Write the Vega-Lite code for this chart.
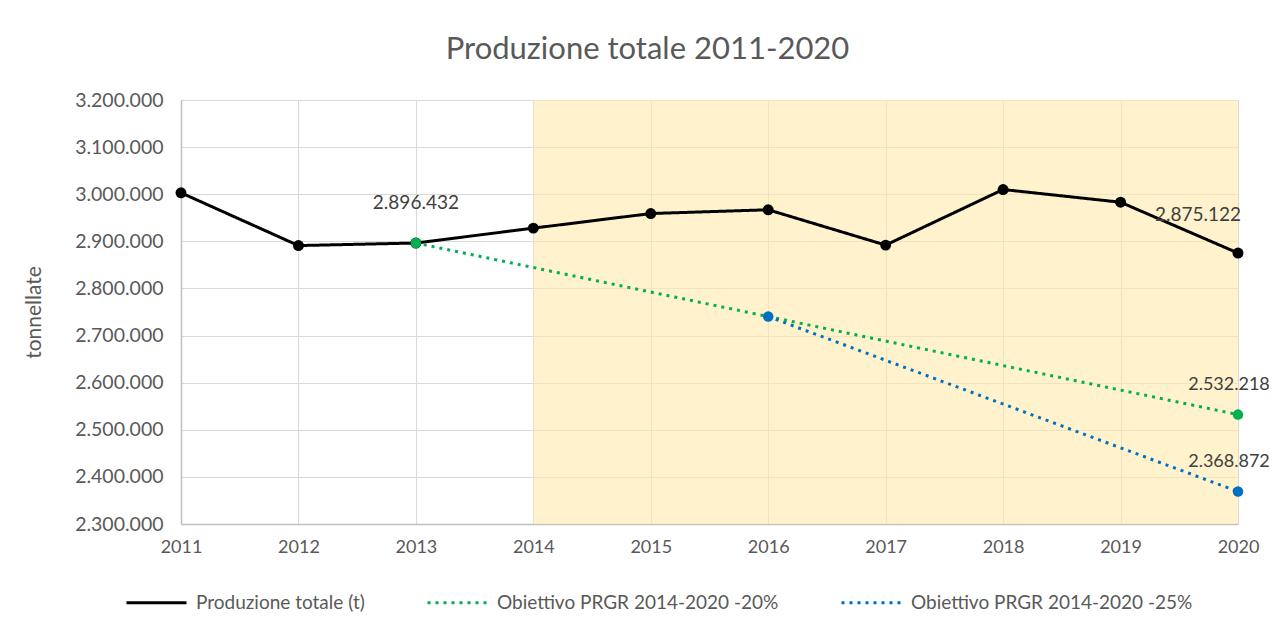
{
  "$schema": "https://vega.github.io/schema/vega-lite/v6.json",
  "width": 1057,
  "height": 424,
  "autosize": "none",
  "padding": {"left": 181, "top": 100, "right": 36, "bottom": 104},
  "background": "white",
  "title": {
    "text": "Produzione totale 2011-2020",
    "font": "Lato",
    "fontSize": 31,
    "fontWeight": "normal",
    "color": "#595959",
    "anchor": "middle",
    "frame": "group",
    "dx": -62,
    "offset": 24
  },
  "datasets": {
    "serie": [
      {"anno": 2011, "valore": 3003000, "serie": "Produzione totale (t)"},
      {"anno": 2012, "valore": 2891000, "serie": "Produzione totale (t)"},
      {"anno": 2013, "valore": 2896432, "serie": "Produzione totale (t)"},
      {"anno": 2014, "valore": 2928000, "serie": "Produzione totale (t)"},
      {"anno": 2015, "valore": 2959000, "serie": "Produzione totale (t)"},
      {"anno": 2016, "valore": 2967000, "serie": "Produzione totale (t)"},
      {"anno": 2017, "valore": 2892000, "serie": "Produzione totale (t)"},
      {"anno": 2018, "valore": 3010000, "serie": "Produzione totale (t)"},
      {"anno": 2019, "valore": 2983000, "serie": "Produzione totale (t)"},
      {"anno": 2020, "valore": 2875122, "serie": "Produzione totale (t)"},
      {"anno": 2013, "valore": 2896432, "serie": "Obiettivo PRGR 2014-2020 -20%"},
      {"anno": 2020, "valore": 2532218, "serie": "Obiettivo PRGR 2014-2020 -20%"},
      {"anno": 2016, "valore": 2740340, "serie": "Obiettivo PRGR 2014-2020 -25%"},
      {"anno": 2020, "valore": 2368872, "serie": "Obiettivo PRGR 2014-2020 -25%"}
    ],
    "periodo": [{"inizio": 2014, "fine": 2020}]
  },
  "encoding": {
    "x": {
      "field": "anno",
      "type": "quantitative",
      "scale": {"domain": [2011, 2020], "nice": false, "zero": false},
      "axis": {
        "title": null,
        "values": [2011, 2012, 2013, 2014, 2015, 2016, 2017, 2018, 2019, 2020],
        "format": "d",
        "grid": true,
        "gridColor": "#d9d9d9",
        "ticks": false,
        "domainColor": "#bfbfbf",
        "domainWidth": 1.5,
        "labelFont": "Lato",
        "labelFontSize": 18,
        "labelColor": "#595959",
        "labelPadding": 14,
        "labelFlush": false
      }
    },
    "y": {
      "field": "valore",
      "type": "quantitative",
      "scale": {"domain": [2300000, 3200000], "nice": false, "zero": false},
      "axis": {
        "title": "tonnellate",
        "titleFont": "Lato",
        "titleFontSize": 21,
        "titleFontWeight": "normal",
        "titleColor": "#595959",
        "titlePadding": 30,
        "values": [2300000, 2400000, 2500000, 2600000, 2700000, 2800000, 2900000, 3000000, 3100000, 3200000],
        "format": ",d",
        "grid": true,
        "gridColor": "#d9d9d9",
        "ticks": false,
        "domainColor": "#bfbfbf",
        "domainWidth": 1.5,
        "labelFont": "Lato",
        "labelFontSize": 19.5,
        "labelColor": "#595959",
        "labelPadding": 18
      }
    }
  },
  "layer": [
    {
      "data": {"name": "periodo"},
      "mark": {"type": "rect", "color": "#FFE9AA", "opacity": 0.6},
      "encoding": {
        "x": {"field": "inizio", "type": "quantitative"},
        "x2": {"field": "fine"},
        "y": null
      }
    },
    {
      "data": {"name": "serie"},
      "mark": {"type": "line", "strokeWidth": 3},
      "encoding": {
        "color": {
          "field": "serie",
          "type": "nominal",
          "scale": {
            "domain": ["Produzione totale (t)", "Obiettivo PRGR 2014-2020 -20%", "Obiettivo PRGR 2014-2020 -25%"],
            "range": ["#000000", "#00B050", "#0070C0"]
          },
          "legend": {
            "title": null,
            "orient": "none",
            "legendX": -56,
            "legendY": 471,
            "direction": "horizontal",
            "symbolType": "stroke",
            "symbolSize": 3600,
            "symbolStrokeWidth": 3,
            "labelFont": "Lato",
            "labelFontSize": 19,
            "labelColor": "#595959",
            "labelLimit": 400,
            "labelOffset": 8,
            "columnPadding": 56
          }
        },
        "strokeDash": {
          "field": "serie",
          "type": "nominal",
          "scale": {
            "domain": ["Produzione totale (t)", "Obiettivo PRGR 2014-2020 -20%", "Obiettivo PRGR 2014-2020 -25%"],
            "range": [[1, 0], [3, 5], [3, 5]]
          },
          "legend": {
            "title": null,
            "orient": "none",
            "legendX": -56,
            "legendY": 471,
            "direction": "horizontal",
            "symbolType": "stroke",
            "symbolSize": 3600,
            "symbolStrokeWidth": 3,
            "labelFont": "Lato",
            "labelFontSize": 19,
            "labelColor": "#595959",
            "labelLimit": 400,
            "labelOffset": 8,
            "columnPadding": 56
          }
        }
      }
    },
    {
      "data": {"name": "serie"},
      "transform": [{"filter": "datum.serie === 'Produzione totale (t)'"}],
      "mark": {"type": "point", "filled": true, "size": 120, "color": "#000000", "opacity": 1}
    },
    {
      "data": {"name": "serie"},
      "transform": [{"filter": "datum.serie === 'Obiettivo PRGR 2014-2020 -20%'"}],
      "mark": {"type": "point", "filled": true, "size": 110, "color": "#00B050", "opacity": 1}
    },
    {
      "data": {"name": "serie"},
      "transform": [{"filter": "datum.serie === 'Obiettivo PRGR 2014-2020 -25%'"}],
      "mark": {"type": "point", "filled": true, "size": 110, "color": "#0070C0", "opacity": 1}
    },
    {
      "data": {"name": "serie"},
      "transform": [{"filter": "datum.serie === 'Produzione totale (t)' && datum.anno === 2013"}],
      "mark": {"type": "text", "font": "Lato", "fontSize": 19, "color": "#404040", "dy": -40},
      "encoding": {"text": {"field": "valore", "type": "quantitative", "format": ",d"}}
    },
    {
      "data": {"name": "serie"},
      "transform": [{"filter": "datum.serie === 'Produzione totale (t)' && datum.anno === 2020"}],
      "mark": {"type": "text", "font": "Lato", "fontSize": 19, "color": "#404040", "dx": -40, "dy": -38},
      "encoding": {"text": {"field": "valore", "type": "quantitative", "format": ",d"}}
    },
    {
      "data": {"name": "serie"},
      "transform": [{"filter": "datum.serie !== 'Produzione totale (t)' && datum.anno === 2020"}],
      "mark": {"type": "text", "font": "Lato", "fontSize": 18, "color": "#404040", "dx": -9, "dy": -30},
      "encoding": {"text": {"field": "valore", "type": "quantitative", "format": ",d"}}
    }
  ],
  "config": {
    "locale": {
      "number": {"decimal": ",", "thousands": ".", "grouping": [3], "currency": ["", " €"]}
    },
    "view": {"stroke": null}
  }
}
